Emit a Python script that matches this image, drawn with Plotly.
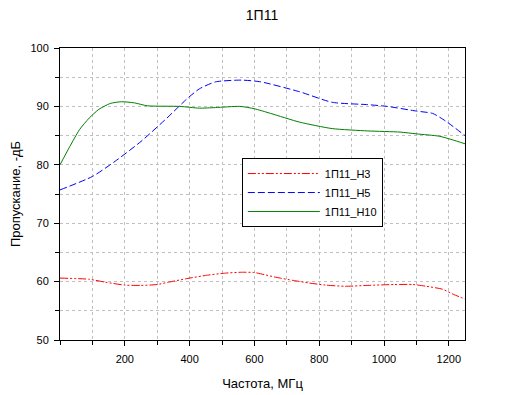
import plotly.graph_objects as go

# Data
x_h3 = [0, 90, 140, 200, 250, 300, 335, 395, 455, 510, 560, 600, 630, 670, 720, 770, 820, 880, 950, 1030, 1090, 1130, 1180, 1215, 1250]
y_h3 = [60.6, 60.4, 59.9, 59.4, 59.35, 59.5, 59.9, 60.55, 61.1, 61.45, 61.6, 61.55, 61.2, 60.7, 60.2, 59.75, 59.4, 59.2, 59.35, 59.5, 59.5, 59.2, 58.7, 57.8, 57.0]

x_h5 = [0, 100, 170, 250, 330, 390, 430, 480, 560, 620, 740, 840, 950, 1010, 1100, 1150, 1190, 1250]
y_h5 = [75.7, 78.0, 80.6, 84.0, 88.0, 91.2, 93.0, 94.2, 94.5, 94.2, 92.5, 90.7, 90.3, 90.0, 89.2, 88.8, 87.5, 85.0]

x_h10 = [0, 30, 60, 90, 120, 155, 190, 230, 270, 370, 430, 480, 555, 600, 650, 740, 840, 950, 1050, 1100, 1170, 1210, 1250]
y_h10 = [80.0, 83.1, 86.0, 88.0, 89.5, 90.5, 90.8, 90.6, 90.1, 90.0, 89.7, 89.8, 90.0, 89.6, 88.8, 87.3, 86.2, 85.8, 85.6, 85.3, 84.9, 84.3, 83.6]

names = ["1П11_Н3", "1П11_Н5", "1П11_Н10"]
colors = ["#ff0000", "#0000ff", "#008000"]
dashes = ["8px,2px,2px,2px,2px,2px", "7px,3px", "solid"]

x_ticks = [200, 400, 600, 800, 1000, 1200]
y_ticks = [50, 60, 70, 80, 90, 100]

FONT = "Liberation Sans, Arial, sans-serif"

fig = go.Figure()
for xs, ys, n, c, d in zip([x_h3, x_h5, x_h10], [y_h3, y_h5, y_h10], names, colors, dashes):
    fig.add_trace(go.Scatter(x=xs, y=ys, name=n, mode="lines",
                             line=dict(color=c, width=1, dash=d, shape="spline", smoothing=0.6)))

axis_common = dict(
    showline=True, linecolor="black", linewidth=1, mirror=True,
    ticks="outside", ticklen=5, tickcolor="black",
    showgrid=True, gridcolor="#c0c0c0", griddash="dot", gridwidth=1,
    zeroline=False, tickfont=dict(family=FONT, size=11, color="black"),
    automargin=False,
)

fig.update_xaxes(range=[0, 1250], tickvals=x_ticks, ticklabelstandoff=4,
                 minor=dict(dtick=100, tick0=0, ticks="outside", ticklen=4, tickcolor="black",
                            showgrid=True, gridcolor="#c0c0c0", griddash="dot"),
                 title=dict(text="Частота, МГц", font=dict(family=FONT, size=13, color="black"), standoff=14),
                 **axis_common)
fig.update_yaxes(range=[50, 100], tickvals=y_ticks, ticklabelstandoff=3,
                 minor=dict(dtick=5, tick0=0, ticks="outside", ticklen=4, tickcolor="black",
                            showgrid=True, gridcolor="#c0c0c0", griddash="dot"),
                 title=dict(text="Пропускание, -дБ", font=dict(family=FONT, size=13, color="black"), standoff=8),
                 **axis_common)

# The page body adds an 8px offset, so the figure is 8px smaller than the window.
fig.update_layout(
    width=500, height=387,
    margin=dict(l=52, r=43, t=40, b=55, autoexpand=False),
    paper_bgcolor="white", plot_bgcolor="white",
    title=dict(text="1П11", x=0.508, xanchor="center", y=0.994, yanchor="top",
               pad=dict(t=0, b=0), font=dict(family=FONT, size=14, color="black")),
    legend=dict(x=0.449, y=0.505, xanchor="left", yanchor="middle",
                bgcolor="white", bordercolor="black", borderwidth=1,
                font=dict(family=FONT, size=11, color="black"),
                itemwidth=72, tracegroupgap=0),
    showlegend=True,
)

fig.write_html("out.html")
